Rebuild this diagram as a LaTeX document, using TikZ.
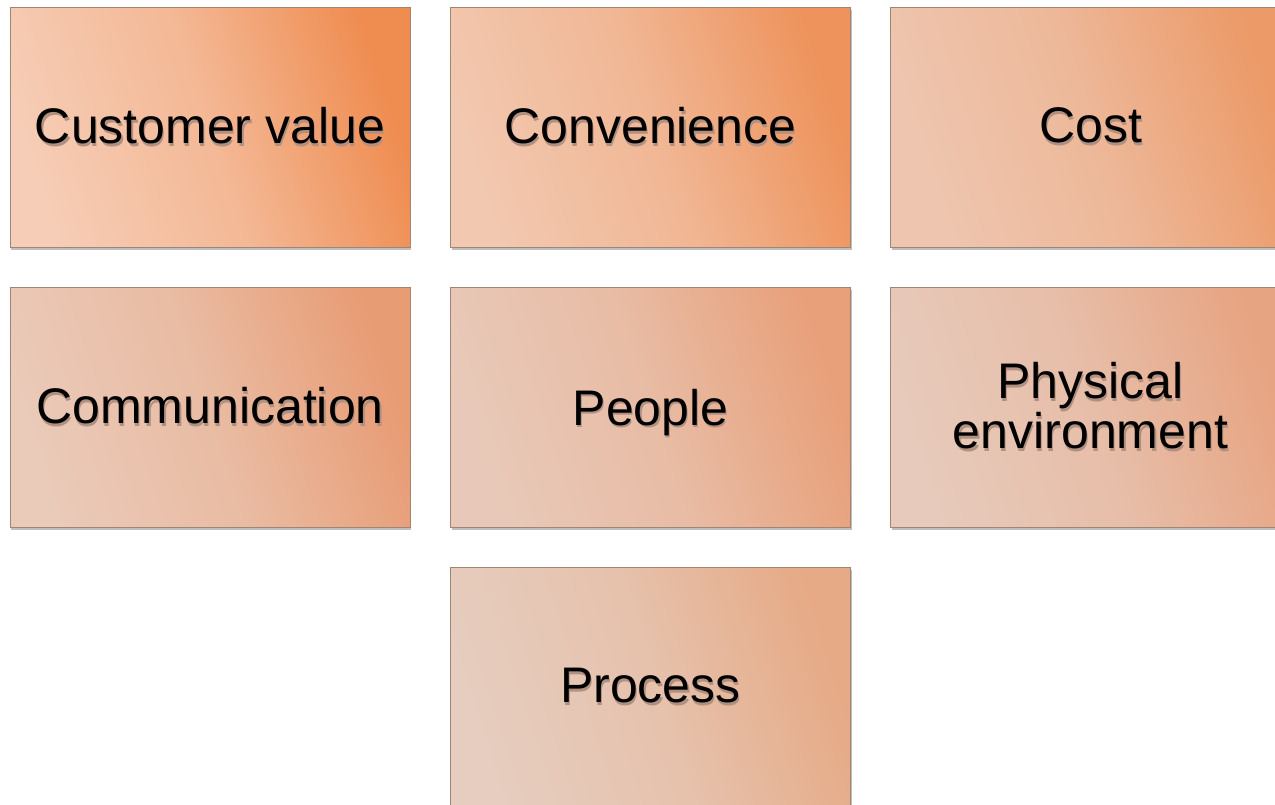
\documentclass[tikz,border=0pt]{standalone}
\usepackage{fontspec}
\setmainfont{Liberation Sans}
\usetikzlibrary{shadows}
\definecolor{boxline}{HTML}{A08474}
\definecolor{shadowc}{HTML}{B09080}
\definecolor{da}{HTML}{EF8C50}\definecolor{la}{HTML}{F6CDB6}
\definecolor{db}{HTML}{EE935C}\definecolor{lb}{HTML}{F2C8B0}
\definecolor{dc}{HTML}{EC9A68}\definecolor{lc}{HTML}{EEC6B0}
\definecolor{dd}{HTML}{E89C74}\definecolor{ld}{HTML}{EACAB9}
\definecolor{de}{HTML}{E8A07A}\definecolor{le}{HTML}{E8C9B9}
\definecolor{df}{HTML}{E7A482}\definecolor{lf}{HTML}{E7CABB}
\definecolor{dg}{HTML}{E6AA86}\definecolor{lg}{HTML}{E6CDBF}
\newcommand{\shd}[1]{\leavevmode\rlap{\raisebox{-2.6pt}{\hspace{1.2pt}\textcolor{shadowc}{#1}}}#1}
\tikzset{
  box/.style={draw=boxline, line width=1pt, minimum width=400pt, minimum height=240pt,
    inner sep=0pt, align=center, text=black,
    font=\fontsize{50}{49}\selectfont,
    drop shadow={shadow xshift=1pt, shadow yshift=-3pt, opacity=0.25, fill=black}},
  grad/.style 2 args={top color=#1, bottom color=#2, middle color=#1!32!#2, shading angle=-72}
}
\begin{document}
\begin{tikzpicture}[x=1pt,y=1pt]
\useasboundingbox (0,0) rectangle (1275,-804);
\node[box, grad={da}{la}] (cv) at (210,-127) {\shd{Customer value}};
\node[box, grad={db}{lb}] (conv) at (650.5,-127) {\shd{Convenience}};
\node[box, grad={dc}{lc}] (cost) at (1090.5,-127) {\shd{Cost}};
\node[box, grad={dd}{ld}] (comm) at (210,-407) {\shd{Communication}};
\node[box, grad={de}{le}, text depth=0pt] (peop) at (650.5,-407) {\shd{People}};
\node[box, grad={df}{lf}] (phys) at (1090.5,-407) {\shd{Physical}\\\shd{environment}};
\node[box, grad={dg}{lg}] (proc) at (650.5,-687) {\shd{Process}};
\end{tikzpicture}
\end{document}
